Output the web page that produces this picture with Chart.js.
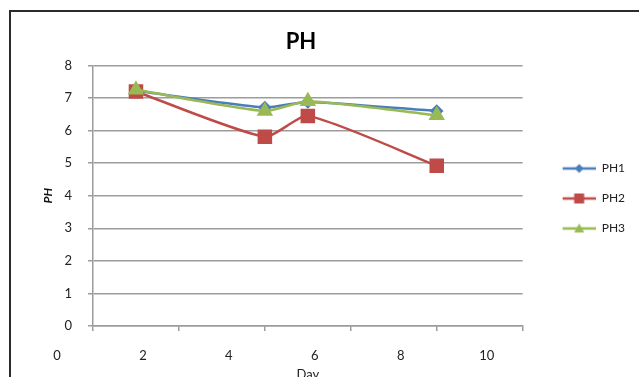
<!DOCTYPE html>
<html>
<head>
<meta charset="utf-8">
<script src="https://cdn.jsdelivr.net/npm/chart.js@4/dist/chart.umd.min.js"></script>
<style>
  html, body { margin: 0; padding: 0; background: #fff; overflow: hidden; width: 639px; height: 377px; }
  #frame { position: absolute; left: 9px; top: 10px; width: 700px; height: 500px;
           border-top: 2.5px solid #2b2b2b; border-left: 2.5px solid #2b2b2b; }
  #c { position: absolute; left: 0; top: 0; }
</style>
</head>
<body>
<div id="frame"></div>
<canvas id="c" width="639" height="377"></canvas>
<script>
// Sampling days and measured pH for the three batches
const days = [1, 4, 5, 8];
const ph1 = [7.22, 6.71, 6.88, 6.60];
const ph2 = [7.20, 5.81, 6.45, 4.92];
const ph3 = [7.25, 6.60, 6.90, 6.47];
const seriesNames = ['PH1', 'PH2', 'PH3'];
const xTicks = [0, 2, 4, 6, 8, 10];
const yTicks = [0, 1, 2, 3, 4, 5, 6, 7, 8];

const FONT = 'Lato, "Liberation Sans", sans-serif';
const GRID = '#9c9c9c';
const colors = ['#4a7ebb', '#be4b48', '#98b954'];
const shapes = ['rectRot', 'rect', 'triangle'];

const pts = vals => days.map((d, i) => ({ x: d, y: vals[i] }));

// Legend swatch: a short line with the series marker in its middle
function swatch(color, shape) {
  const c = document.createElement('canvas');
  c.width = 55; c.height = 14;
  const g = c.getContext('2d');
  g.strokeStyle = color; g.fillStyle = color; g.lineWidth = 2.5;
  g.beginPath(); g.moveTo(22, 7); g.lineTo(55, 7); g.stroke();
  const cx = 38.5, cy = 7;
  g.beginPath();
  if (shape === 'rectRot') {
    g.moveTo(cx, cy - 4.5); g.lineTo(cx + 4.5, cy); g.lineTo(cx, cy + 4.5); g.lineTo(cx - 4.5, cy);
  } else if (shape === 'rect') {
    g.rect(cx - 5, cy - 5, 10, 10);
  } else {
    g.moveTo(cx, cy - 5); g.lineTo(cx + 5, cy + 4); g.lineTo(cx - 5, cy + 4);
  }
  g.closePath(); g.fill();
  return c;
}

// Centre the chart title over the plot rather than the whole canvas
const titleCentre = {
  id: 'titleCentre',
  afterLayout(chart) {
    const t = chart.titleBlock;
    if (t) { t.left = 0; t.right = 602; t.width = 602; }
  }
};

const seriesValues = [ph1, ph2, ph3];
const datasets = seriesNames.map((name, i) => ({
  label: name,
  data: pts(seriesValues[i]),
  borderColor: colors[i],
  backgroundColor: colors[i],
  pointBackgroundColor: colors[i],
  pointBorderColor: colors[i],
  pointStyle: shapes[i],
  pointRadius: [5, 8.5, 7][i],
  borderWidth: 2.5,
  tension: 0.2,
  order: 3 - i
}));

new Chart(document.getElementById('c'), {
  type: 'line',
  data: { datasets },
  plugins: [titleCentre],
  options: {
    responsive: false,
    animation: false,
    layout: { padding: { left: 0, right: 4, top: 0, bottom: 0 } },
    plugins: {
      title: {
        display: true, text: 'PH', color: '#000',
        font: { family: FONT, size: 22, weight: 'bold' },
        padding: { top: 29, bottom: 10 }
      },
      legend: {
        position: 'right',
        title: { display: true, text: ' ', font: { size: 10 }, padding: { top: 4, bottom: 4 } },
        labels: {
          usePointStyle: true, pointStyleWidth: 55, boxHeight: 14,
          padding: 18, color: '#222',
          font: { family: FONT, size: 12 },
          generateLabels: chart => seriesNames.map((name, i) => ({
            text: name,
            pointStyle: swatch(colors[i], shapes[i]),
            fillStyle: colors[i], strokeStyle: colors[i],
            lineWidth: 0, hidden: false, datasetIndex: i, fontColor: '#222'
          }))
        }
      },
      tooltip: { enabled: false }
    },
    scales: {
      x: {
        type: 'linear', min: 0, max: 10,
        afterBuildTicks: s => { s.ticks = xTicks.map(v => ({ value: v })); },
        afterFit: s => { s.height = 51; },
        grid: { drawOnChartArea: false, drawTicks: true, tickLength: 5, color: GRID, lineWidth: 1.5 },
        border: { color: GRID, width: 1.5 },
        ticks: { labelOffset: -36, padding: 17, color: '#222', font: { family: FONT, size: 13 } },
        title: {
          display: true, text: 'Day', color: '#222',
          font: { family: FONT, size: 13 },
          padding: { top: -6, bottom: -6 }
        }
      },
      y: {
        min: 0, max: 8,
        afterBuildTicks: s => { s.ticks = yTicks.map(v => ({ value: v })); },
        afterFit: s => { s.width = 93; },
        grid: { color: GRID, lineWidth: 1.5, tickLength: 5 },
        border: { color: GRID, width: 1.5 },
        ticks: { padding: 16, color: '#222', font: { family: FONT, size: 13 } },
        title: {
          display: true, text: 'PH', color: '#111',
          font: { family: FONT, size: 12, weight: 'bold', style: 'italic' },
          padding: { top: 41, bottom: 0 }
        }
      }
    }
  }
});
</script>
</body>
</html>
